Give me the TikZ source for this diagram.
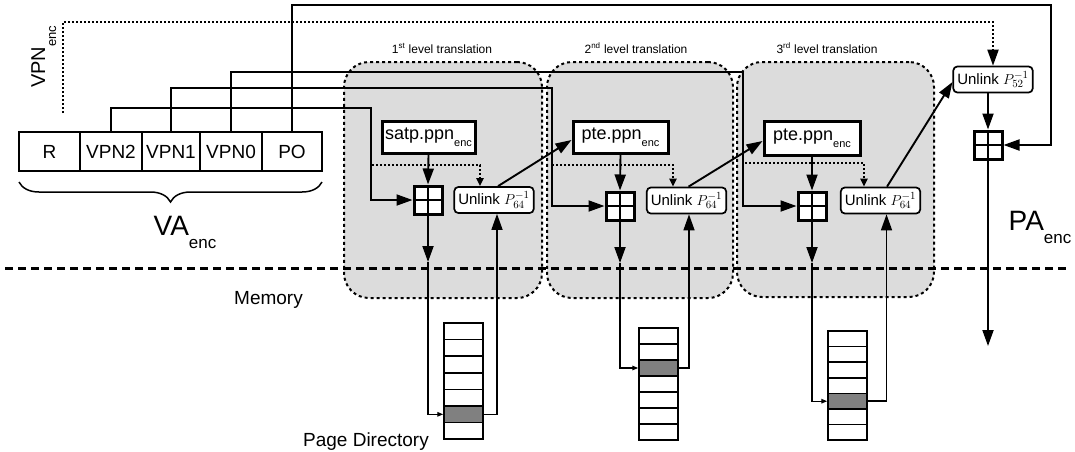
\documentclass[tikz,border=0pt]{standalone}
\usepackage{fontspec}
\setmainfont{Liberation Sans}
\usetikzlibrary{arrows.meta,decorations.pathreplacing,calc}
\definecolor{lvlfill}{HTML}{DCDCDC}
\definecolor{hitfill}{HTML}{808080}
\newcommand{\fs}[1]{\fontsize{#1}{#1}\selectfont}
\newcommand{\encsub}[2]{\raisebox{-#2}{\fs{#1}enc}}
% one page table: name, x centre, top y, row height, highlighted row
\newcommand{\pagetable}[5]{%
  \foreach \i in {1,...,7}{%
    \ifnum\i=#5\relax\def\cf{hitfill}\else\def\cf{white}\fi
    \node[ptecell, fill=\cf, minimum height=#4pt] (#1-\i) at (#2,{#3+#4*(\i-0.5)}) {};
  }}
\begin{document}
\begin{tikzpicture}[x=1pt,y=-1pt,
  bighead/.style={-{Triangle[length=16pt,width=11pt]}},
  conn/.style={line width=1.9pt,bighead},
  retconn/.style={line width=1.5pt,bighead},
  keyline/.style={line width=2pt,dotted},
  keyarrow/.style={line width=2pt,dotted,-{Triangle[length=8pt,width=7pt]}},
  memarrow/.style={line width=1.4pt,-{Triangle[length=6pt,width=4.5pt]}},
  cell/.style={draw,fill=white,line width=2.7pt,minimum height=39pt,inner sep=0pt,font=\fs{19}},
  reg/.style={draw,fill=white,line width=3pt,minimum height=32pt,inner sep=0pt,font=\fs{18}},
  unl/.style={draw,fill=white,rounded corners=4pt,line width=1.7pt,minimum height=26pt,inner xsep=4pt,inner ysep=0pt,font=\fs{15}},
  adder/.style={draw,fill=white,line width=3pt,minimum size=28pt,inner sep=0pt,
    path picture={\draw[line width=2.5pt] (path picture bounding box.north) -- (path picture bounding box.south)
      (path picture bounding box.west) -- (path picture bounding box.east);}},
  lvl/.style={draw,fill=lvlfill,line width=2pt,dash pattern=on 3pt off 3pt,rounded corners=25pt,inner sep=0pt},
  lvltitle/.style={font=\fs{12},anchor=base,inner sep=0pt},
  ptecell/.style={draw,line width=1.5pt,minimum width=39pt,inner sep=0pt},
]
\fill[white] (0,0) rectangle (1075,451);
\useasboundingbox (0,0) rectangle (1075,451);

% translation stages
\node[lvl,minimum width=198pt,minimum height=236pt] (lv1) at (443,180) {};
\node[lvl,minimum width=186pt,minimum height=236pt] (lv2) at (640,180) {};
\node[lvl,minimum width=197pt,minimum height=235pt] (lv3) at (835.5,179.5) {};
\node[lvltitle] (lv1t) at (442,53) {1\textsuperscript{st} level translation};
\node[lvltitle] (lv2t) at (636,53) {2\textsuperscript{nd} level translation};
\node[lvltitle] (lv3t) at (827,53) {3\textsuperscript{rd} level translation};

% memory boundary
\draw[line width=3pt,dash pattern=on 8pt off 5pt] (5,268) -- (1070,268);
\node[font=\fs{19},anchor=base,inner sep=0pt] (memlbl) at (268.5,304) {Memory};

% virtual address fields
\node[cell,minimum width=61pt] (r) at (49.5,151.5) {R};
\node[cell,minimum width=62pt] (vpn2) at (111,151.5) {VPN2};
\node[cell,minimum width=58pt] (vpn1) at (171,151.5) {VPN1};
\node[cell,minimum width=62pt] (vpn0) at (231,151.5) {VPN0};
\node[cell,minimum width=60pt] (po) at (292,151.5) {PO};
\draw[line width=1.5pt,decorate,decoration={brace,amplitude=20pt}] (322,182) -- (19,182);
\node[anchor=base,font=\fs{28},inner sep=0pt] (valbl) at (185,235) {VA\encsub{17}{13pt}};
\node[rotate=90,anchor=base west,font=\fs{20},inner sep=0pt] (vpnlbl) at (45,88) {VPN\encsub{13}{11pt}};
\node[anchor=base,font=\fs{28},inner sep=0pt] (palbl) at (1040,230) {PA\encsub{17}{13pt}};

% registers, adders and unlink units
\node[reg,minimum width=93pt] (satp) at (428.5,137) {satp.ppn\encsub{11}{7pt}};
\node[reg,minimum width=95pt] (pte2) at (620.5,137) {pte.ppn\encsub{11}{7pt}};
\node[reg,minimum width=96pt,minimum height=34pt] (pte3) at (812,138) {pte.ppn\encsub{11}{7pt}};
\node[adder] (add1) at (428,200) {};
\node[adder] (add2) at (620,206) {};
\node[adder] (add3) at (812,206) {};
\node[adder] (add4) at (988,145) {};
\node[unl] (u1) at (494,200) {Unlink $P_{64}^{-1}$};
\node[unl] (u2) at (686.5,200.5) {Unlink $P_{64}^{-1}$};
\node[unl] (u3) at (880.5,200.5) {Unlink $P_{64}^{-1}$};
\node[unl] (p52) at (993,79.5) {Unlink $P_{52}^{-1}$};

% page tables in memory
\pagetable{pa}{463.5}{323}{16.6}{6}
\pagetable{pb}{658.5}{328}{16}{3}
\pagetable{pc}{847.5}{331}{15.6}{5}

% index fields into the adders
\draw[conn] (vpn2.north) |- (371,108) |- (add1.west);
\draw[conn] (vpn1.north) |- (552,88) |- (add2.west);
\draw[conn] (vpn0.north) |- (743,72) |- (add3.west);
\draw[conn] (po.north) |- (1051,5) |- (add4.east);

% encryption key paths
\coordinate (ks) at (63,113);
\coordinate (kc) at (63,22);
\draw[keyline,bighead] (ks) -- (kc) -| (p52.north);
\coordinate (k1) at (372,165);
\coordinate (k2) at (552,165);
\coordinate (k3) at (745,163);
\draw[keyarrow] (k1) -| ([xshift=-14pt]u1.north);
\draw[keyarrow] (k2) -| ([xshift=-13.5pt]u2.north);
\draw[keyarrow] (k3) -| ([xshift=-16.5pt]u3.north);

% base into adders
\draw[conn] (satp.south) -- (add1.north);
\draw[conn] (pte2.south) -- (add2.north);
\draw[conn] (pte3.south) -- (add3.north);
\draw[conn] (p52.south -| add4.north) -- (add4.north);

% walk through memory
\coordinate (m1) at (428,262);
\coordinate (m2) at (620,263);
\coordinate (m3) at (812,263);
\draw[conn] (add1.south) -- (m1);
\draw[conn] (add2.south) -- (m2);
\draw[conn] (add3.south) -- (m3);
\draw[memarrow] (m1) |- (pa-6.west);
\draw[memarrow] (m2) |- (pb-3.west);
\draw[memarrow] (m3) |- (pc-5.west);
\draw[retconn] (pa-6.east) -| ([xshift=3pt]u1.south);
\draw[retconn] (pb-3.east) -| ([xshift=2.5pt]u2.south);
\draw[retconn] (pc-5.east) -| ([xshift=6pt]u3.south);

% next-level pointers
\draw[conn] ([xshift=4pt]u1.north) -- ([yshift=-3pt]pte2.west);
\draw[conn] ([xshift=2pt]u2.north) -- ([yshift=-3pt]pte3.west);
\draw[conn] ([xshift=6.5pt]u3.north) -- ([yshift=-2.5pt]p52.west);

% physical address out
\coordinate (paout) at (988,346);
\draw[conn] (add4.south) -- (paout);

\node[font=\fs{19},anchor=base,inner sep=0pt] (pdlbl) at (366,446) {Page Directory};
\end{tikzpicture}
\end{document}
